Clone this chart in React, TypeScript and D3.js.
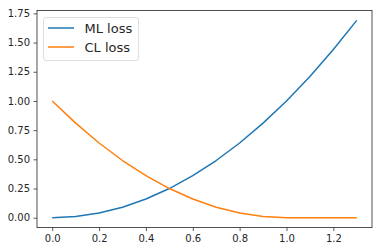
import { useEffect, useRef } from "react";
import * as d3 from "d3";

const xValues = [0, 0.1, 0.2, 0.3, 0.4, 0.5, 0.6, 0.7, 0.8, 0.9, 1.0, 1.1, 1.2, 1.3];
const mlLoss = [0, 0.01, 0.04, 0.09, 0.16, 0.25, 0.36, 0.49, 0.64, 0.81, 1.0, 1.21, 1.44, 1.69];
const clLoss = [1.0, 0.81, 0.64, 0.49, 0.36, 0.25, 0.16, 0.09, 0.04, 0.01, 0, 0, 0, 0];
const xTicks = [0, 0.2, 0.4, 0.6, 0.8, 1.0, 1.2];
const yTicks = [0, 0.25, 0.5, 0.75, 1.0, 1.25, 1.5, 1.75];

const series = [
    { name: "ML loss", color: "#1f77b4", values: mlLoss },
    { name: "CL loss", color: "#ff7f0e", values: clLoss },
];

export default function App() {
    const svgRef = useRef<SVGSVGElement>(null);

    useEffect(() => {
        if (!svgRef.current) return;
        const svg = d3.select(svgRef.current);
        svg.selectAll("*").remove();

        const left = 37, right = 372, top = 10.5, bottom = 227.6;

        const x = d3.scaleLinear().domain([-0.065, 1.365]).range([left, right]);
        const y = d3.scaleLinear().domain([-0.0845, 1.7745]).range([bottom, top]);

        const font = "DejaVu Sans, sans-serif";

        // x axis
        const gx = svg.append("g")
            .attr("transform", `translate(0,${bottom})`)
            .call(d3.axisBottom(x).tickValues(xTicks).tickFormat(d3.format(".1f")).tickSizeOuter(0).tickSize(3.5).tickPadding(3.5));
        gx.select(".domain").remove();
        gx.selectAll("line").attr("stroke", "#333").attr("stroke-width", 0.8);
        gx.selectAll("text").style("font-family", font).style("font-size", "10px").attr("fill", "#262626");

        // y axis
        const gy = svg.append("g")
            .attr("transform", `translate(${left},0)`)
            .call(d3.axisLeft(y).tickValues(yTicks).tickFormat(d3.format(".2f")).tickSizeOuter(0).tickSize(3.5).tickPadding(3.5));
        gy.select(".domain").remove();
        gy.selectAll("line").attr("stroke", "#333").attr("stroke-width", 0.8);
        gy.selectAll("text").style("font-family", font).style("font-size", "10px").attr("fill", "#262626");

        const line = d3.line<number>()
            .x((_, i) => x(xValues[i]))
            .y((d) => y(d));

        series.forEach((s) => {
            svg.append("path")
                .datum(s.values)
                .attr("fill", "none")
                .attr("stroke", s.color)
                .attr("stroke-width", 1.5)
                .attr("stroke-linejoin", "round")
                .attr("d", line);
        });

        // frame
        svg.append("rect")
            .attr("x", left).attr("y", top)
            .attr("width", right - left).attr("height", bottom - top)
            .attr("fill", "none").attr("stroke", "#262626").attr("stroke-width", 0.8);

        // legend
        const lg = svg.append("g").attr("transform", "translate(43.5,17.5)");
        lg.append("rect")
            .attr("width", 95).attr("height", 43).attr("rx", 2.5)
            .attr("fill", "white").attr("fill-opacity", 0.8)
            .attr("stroke", "#d6d6d6").attr("stroke-width", 0.8);
        series.forEach((s, i) => {
            const yy = 10.5 + i * 19;
            lg.append("line")
                .attr("x1", 4.5).attr("x2", 30.5).attr("y1", yy).attr("y2", yy)
                .attr("stroke", s.color).attr("stroke-width", 1.5);
            lg.append("text")
                .attr("x", 41).attr("y", yy).attr("dy", "0.36em")
                .style("font-family", font).style("font-size", "13px")
                .attr("fill", "#262626")
                .text(s.name);
        });
    }, []);

    return (
        <div style={{ position: "fixed", left: 0, top: 0, background: "white" }}>
            <svg ref={svgRef} width={382} height={252} style={{ display: "block" }}></svg>
        </div>
    );
}
